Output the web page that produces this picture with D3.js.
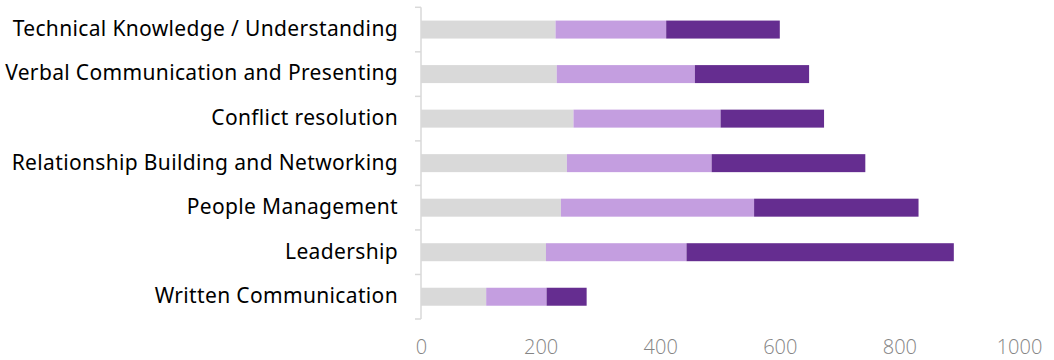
<!DOCTYPE html>
<html>
<head>
<meta charset="utf-8">
<script src="https://cdn.jsdelivr.net/npm/d3@7"></script>
<style>
  html, body { margin: 0; padding: 0; background: #fff; }
  svg { display: block; }
</style>
</head>
<body>
<svg id="chart" width="1054" height="360"></svg>
<script>
// Skills, listed top to bottom
const categories = [
  "Technical Knowledge / Understanding",
  "Verbal Communication and Presenting",
  "Conflict resolution",
  "Relationship Building and Networking",
  "People Management",
  "Leadership",
  "Written Communication"
];

// Stacked segments, left to right
const seriesLow  = [225, 227, 255, 244, 234, 209, 109];
const seriesMid  = [185, 231, 246, 242, 323, 235, 101];
const seriesHigh = [190, 191, 173, 257, 275, 447, 67];

const xTicks = [0, 200, 400, 600, 800, 1000];
const seriesColors = ["#d9d9d9", "#c49ee0", "#652d90"];

const svg = d3.select("#chart");
const margin = { left: 421, right: 35, top: 7.3, bottom: 41 };
const W = 1054, H = 360;

const x = d3.scaleLinear()
  .domain([0, 1000])
  .range([margin.left, W - margin.right]);

const y = d3.scaleBand()
  .domain(categories)
  .range([margin.top, H - margin.bottom])
  .paddingInner(0.596)
  .paddingOuter(0.298);

const rows = categories.map((c, i) => ({
  cat: c, low: seriesLow[i], mid: seriesMid[i], high: seriesHigh[i]
}));
const stack = d3.stack().keys(["low", "mid", "high"])(rows);

// Bars
svg.append("g")
  .selectAll("g")
  .data(stack)
  .join("g")
  .attr("fill", (d, i) => seriesColors[i])
  .selectAll("rect")
  .data(d => d)
  .join("rect")
  .attr("x", d => x(d[0]))
  .attr("y", d => y(d.data.cat))
  .attr("width", d => x(d[1]) - x(d[0]))
  .attr("height", y.bandwidth());

// Category axis: line plus tick marks between categories
const axisG = svg.append("g");
const step = y.step();
const y0 = y.range()[0], y1 = y.range()[1];
axisG.append("line")
  .attr("x1", x(0)).attr("x2", x(0))
  .attr("y1", y0).attr("y2", y1)
  .attr("stroke", "#d9d9d9").attr("stroke-width", 1.5);
d3.range(categories.length + 1).forEach(i => {
  const yy = y0 + i * step;
  axisG.append("line")
    .attr("x1", x(0) - 6).attr("x2", x(0))
    .attr("y1", yy).attr("y2", yy)
    .attr("stroke", "#d9d9d9").attr("stroke-width", 1.5);
});

// Category labels
svg.append("g")
  .selectAll("text")
  .data(categories)
  .join("text")
  .attr("x", 398)
  .attr("y", d => y(d) + y.bandwidth() / 2 - 1)
  .attr("dy", "0.35em")
  .attr("text-anchor", "end")
  .attr("font-family", "'Noto Sans', sans-serif")
  .attr("font-size", 21)
  .attr("letter-spacing", 0.35)
  .attr("fill", "#000")
  .text(d => d);

// Value axis labels
const xAxis = d3.axisBottom(x).tickValues(xTicks).tickFormat(d3.format("d"))
  .tickSize(0).tickPadding(0);
const xg = svg.append("g")
  .attr("transform", `translate(0, 347)`)
  .call(xAxis);
xg.select(".domain").remove();
xg.selectAll("text")
  .attr("dy", "0.35em")
  .attr("font-family", "'Open Sans', sans-serif")
  .attr("font-weight", 300)
  .attr("font-size", 20)
  .attr("fill", "#858585");
</script>
</body>
</html>
